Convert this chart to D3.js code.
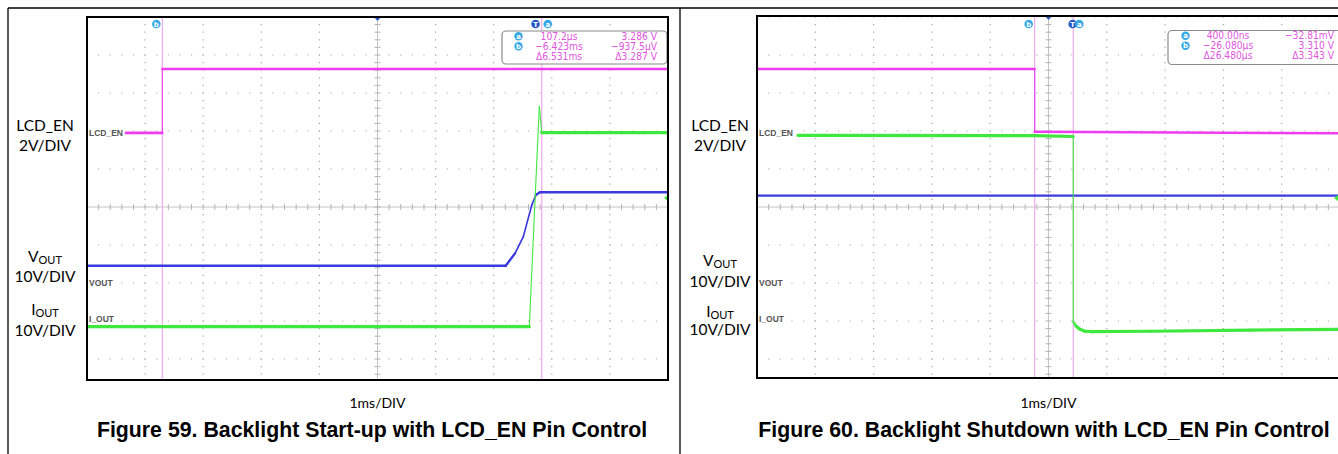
<!DOCTYPE html>
<html>
<head>
<meta charset="utf-8">
<script src="https://cdn.jsdelivr.net/npm/d3@7"></script>
<style>
  body { margin: 0; background: #fff; }
  svg { display: block; }
</style>
</head>
<body>
<div id="scope"></div>
<script>
// Vertical values are in screen divisions above (+) / below (-) the centre line.

// Figure 59, start-up (time in ms, trigger at 0)
const upLcdT  = [-7.05, -6.423, -6.423, 2.28];
const upLcdV  = [1.95, 1.95, 3.63, 3.63];
const upVoutT = [-7.72, -0.513, -0.353, -0.21, -0.065, 0.009, 0.077, 2.28];
const upVoutV = [-1.545, -1.545, -1.22, -0.78, 0.05, 0.32, 0.39, 0.39];
const upIoutT = [-7.72, -0.107, 0.065, 0.107, 2.28];
const upIoutV = [-3.15, -3.15, 2.66, 1.955, 1.955];
const upCursorT = { b: -6.423, a: 0.1072 };
const upReadout = [
  ["a", "107.2µs", "3.286 V"],
  ["b", "−6.423ms", "−937.5µV"],
  ["", "Δ6.531ms", "Δ3.287 V"]
];

// Figure 60, shutdown (time in µs, trigger at 0)
const dnLcdT  = [-216.6, -26.08, -26.08, 183.4];
const dnLcdV  = [3.63, 3.63, 1.98, 1.94];
const dnVoutT = [-216.6, 183.4];
const dnVoutV = [0.30, 0.30];
const dnIoutT = [-188.5, -25.9, 0.4, 0.4, 2.26, 5.0, 8.4, 13.2, 53.0, 121.7, 183.4];
const dnIoutV = [1.887, 1.88, 1.855, -3.018, -3.13, -3.22, -3.27, -3.28, -3.27, -3.24, -3.22];
const dnCursorT = { b: -26.08, a: 0.4 };
const dnReadout = [
  ["a", "400.00ns", "−32.81mV"],
  ["b", "−26.080µs", "3.310 V"],
  ["", "Δ26.480µs", "Δ3.343 V"]
];

const channelTags = ["LCD_EN", "VOUT", "I_OUT"];
const timebaseLabel = "1ms/DIV";
const captions = [
  "Figure 59. Backlight Start-up with LCD_EN Pin Control",
  "Figure 60. Backlight Shutdown with LCD_EN Pin Control"
];

// colours
const cLcd = "#f03cf0", cVout = "#3a3ae0", cIout = "#3fe83f";
const cCursor = "#eeaaee", cIcon = "#36a8e6", cGrid = "#a8a8a8";

const W = 1338, H = 454;
const svg = d3.select("#scope").append("svg")
  .attr("width", W).attr("height", H);

// outer frame lines
svg.append("line").attr("x1", 8).attr("x2", W).attr("y1", 8).attr("y2", 8)
  .attr("stroke", "#000").attr("stroke-width", 1.3);
[8, 680].forEach(xx => svg.append("line").attr("x1", xx).attr("x2", xx)
  .attr("y1", 8).attr("y2", H).attr("stroke", "#000").attr("stroke-width", 1.3));

const panels = [
  {
    id: "p59", left: 87, divW: 58.1, top: 17, bottom: 380, trigDiv: 7.72, perDiv: 1,
    lcd: [upLcdT, upLcdV], vout: [upVoutT, upVoutV], iout: [upIoutT, upIoutV],
    cursors: upCursorT, readout: upReadout,
    box: { x: 502, y: 31, w: 165, h: 33, icon: 16.5, c1: 57, c2: 155 },
    labelX: 45, labelY: [130.5, 150.7, 262, 281.7, 315, 335.7],
    captionX: 372, caption: captions[0]
  },
  {
    id: "p60", left: 757, divW: 58.3, top: 16, bottom: 378, trigDiv: 5.415, perDiv: 40,
    lcd: [dnLcdT, dnLcdV], vout: [dnVoutT, dnVoutV], iout: [dnIoutT, dnIoutV],
    cursors: dnCursorT, readout: dnReadout,
    box: { x: 1168, y: 30.5, w: 190, h: 34, icon: 17.5, c1: 60, c2: 166 },
    labelX: 720, labelY: [130.7, 150.7, 266, 287, 316.5, 335],
    captionX: 1044, caption: captions[1]
  }
];

const divH = 38, centreY = 207;

panels.forEach(p => {
  const right = p.left + 10 * p.divW;
  const x = d3.scaleLinear()
    .domain([-p.trigDiv * p.perDiv, (10 - p.trigDiv) * p.perDiv])
    .range([p.left, right]);
  const y = d3.scaleLinear()
    .domain([(centreY - p.bottom) / divH, (centreY - p.top) / divH])
    .range([p.bottom, p.top]);
  const gridX = d3.range(11).map(k => x((k - p.trigDiv) * p.perDiv));
  const yTop = y.domain()[1], yBot = y.domain()[0];

  svg.append("clipPath").attr("id", "clip-" + p.id)
    .append("rect").attr("x", p.left).attr("y", p.top)
    .attr("width", Math.min(right, W) - p.left).attr("height", p.bottom - p.top);

  const g = svg.append("g").attr("clip-path", `url(#clip-${p.id})`);

  // dotted grid
  gridX.forEach((gx, k) => {
    if (k === 0 || k === 5 || k === 10) return;
    g.append("line").attr("x1", gx).attr("x2", gx).attr("y1", p.top).attr("y2", p.bottom)
      .attr("stroke", cGrid).attr("stroke-width", 1.2)
      .attr("stroke-dasharray", `1.2,${divH / 5 - 1.2}`)
      .attr("stroke-dashoffset", -((centreY - p.top) % (divH / 5)) + 0.6);
  });
  d3.range(Math.ceil(yBot), Math.floor(yTop) + 1).forEach(v => {
    if (v === 0) return;
    g.append("line").attr("x1", p.left).attr("x2", right).attr("y1", y(v)).attr("y2", y(v))
      .attr("stroke", cGrid).attr("stroke-width", 1.2)
      .attr("stroke-dasharray", `1.2,${p.divW / 5 - 1.2}`)
      .attr("stroke-dashoffset", 0.6);
  });

  // centre crosshair with minor ticks
  const cx = gridX[5];
  g.append("line").attr("x1", p.left).attr("x2", right).attr("y1", y(0)).attr("y2", y(0))
    .attr("stroke", "#c4c4c4").attr("stroke-width", 1);
  g.append("line").attr("x1", cx).attr("x2", cx).attr("y1", p.top).attr("y2", p.bottom)
    .attr("stroke", "#c4c4c4").attr("stroke-width", 1);
  d3.range(0, 50).forEach(i => {
    const tx = p.left + i * p.divW / 5;
    g.append("line").attr("x1", tx).attr("x2", tx).attr("y1", y(0) - 3).attr("y2", y(0) + 3)
      .attr("stroke", "#b4b4b4");
  });
  d3.range(Math.ceil(yBot * 5), Math.floor(yTop * 5) + 1).forEach(i => {
    const ty = y(i / 5);
    g.append("line").attr("x1", cx - 3).attr("x2", cx + 3).attr("y1", ty).attr("y2", ty)
      .attr("stroke", "#b4b4b4");
  });

  // cursors
  Object.values(p.cursors).forEach(t => {
    g.append("line").attr("x1", x(t)).attr("x2", x(t)).attr("y1", p.top).attr("y2", p.bottom)
      .attr("stroke", cCursor).attr("stroke-width", 1.2);
  });

  // traces: fast edges are drawn thin, like the faint phosphor of a scope
  const line = d3.line().x(d => x(d[0])).y(d => y(d[1]));
  const drawTrace = (series, colour, w) => {
    const pts = d3.zip(...series);
    d3.pairs(pts).forEach(([a, b]) => {
      const dx = Math.abs(x(b[0]) - x(a[0])), dy = Math.abs(y(b[1]) - y(a[1]));
      const steep = dy > 6 * dx;
      g.append("path").datum([a, b]).attr("d", line)
        .attr("fill", "none").attr("stroke", colour)
        .attr("stroke-width", steep ? 1.1 : (dy > 1.5 * dx ? w * 0.7 : w))
        .attr("stroke-linecap", steep ? "butt" : "round");
    });
  };
  drawTrace(p.vout, cVout, 2.4);
  drawTrace(p.iout, cIout, 3.2);
  drawTrace(p.lcd, cLcd, 2.6);

  // channel tags inside the plot
  const tagY = [y(1.95) + 3, 285.5, 321.5];
  channelTags.forEach((s, i) => g.append("text").attr("x", p.left + 2).attr("y", tagY[i])
    .attr("font-family", "Liberation Sans, Arial, sans-serif").attr("font-size", 8.5)
    .attr("font-weight", "bold").attr("fill", "#555").text(s));

  // ground marker for I_OUT and trigger marker
  const gx = Math.min(right, W) - 4;
  g.append("path").attr("d", `M${gx},${y(0.24)} l4,-3 v6 z`).attr("fill", cIout);
  svg.append("path").attr("d", `M${cx - 3.5},${p.top} h7 l-3.5,4 z`).attr("fill", "#2458c8");

  // cursor / trigger icons along the top
  const icon = (ix, letter, fill) => {
    svg.append("circle").attr("cx", ix).attr("cy", 24).attr("r", 4.3).attr("fill", fill);
    svg.append("text").attr("x", ix).attr("y", 26.8).attr("text-anchor", "middle")
      .attr("font-family", "DejaVu Sans, sans-serif").attr("font-size", 7).attr("font-weight", "bold")
      .attr("fill", "#fff").text(letter);
  };
  icon(x(p.cursors.b) - 6, "b", cIcon);
  icon(x(0), "T", "#2458c8");
  icon(x(p.cursors.a) + 6, "a", cIcon);

  // readout box
  const b = p.box;
  svg.append("rect").attr("x", b.x).attr("y", b.y).attr("width", b.w).attr("height", b.h)
    .attr("rx", 4).attr("fill", "#fff").attr("stroke", "#8a8a8a").attr("stroke-width", 1.2);
  p.readout.forEach((row, i) => {
    const ry = b.y + 8.5 + i * 10;
    if (row[0]) {
      svg.append("circle").attr("cx", b.x + b.icon).attr("cy", ry - 3.3).attr("r", 4.2).attr("fill", cIcon);
      svg.append("text").attr("x", b.x + b.icon).attr("y", ry - 0.8).attr("text-anchor", "middle")
        .attr("font-family", "DejaVu Sans, sans-serif").attr("font-size", 7).attr("font-weight", "bold")
        .attr("fill", "#fff").text(row[0]);
    }
    const txt = (tx, anchor, s) => svg.append("text").attr("x", tx).attr("y", ry)
      .attr("text-anchor", anchor)
      .attr("font-family", "DejaVu Sans Condensed, DejaVu Sans, sans-serif")
      .attr("font-stretch", "condensed").attr("font-size", 10.2)
      .attr("fill", "#df55df").text(s);
    txt(b.x + b.c1, "middle", row[1]);
    txt(b.x + b.c2, "end", row[2]);
  });

  // plot frame
  svg.append("rect").attr("x", p.left).attr("y", p.top)
    .attr("width", right - p.left).attr("height", p.bottom - p.top)
    .attr("fill", "none").attr("stroke", "#000").attr("stroke-width", 2);

  // channel scale labels on the left
  const lab = svg.append("g").attr("font-family", "Lato, sans-serif").attr("font-size", 15.5)
    .attr("fill", "#000").attr("text-anchor", "middle");
  lab.append("text").attr("x", p.labelX).attr("y", p.labelY[0]).text("LCD_EN");
  lab.append("text").attr("x", p.labelX).attr("y", p.labelY[1]).text("2V/DIV");
  const sub = (ty, main) => {
    const t = lab.append("text").attr("x", p.labelX).attr("y", ty);
    t.append("tspan").text(main);
    t.append("tspan").attr("font-size", 11).attr("dy", 2).text("OUT");
  };
  sub(p.labelY[2], "V");
  lab.append("text").attr("x", p.labelX).attr("y", p.labelY[3]).text("10V/DIV");
  sub(p.labelY[4], "I");
  lab.append("text").attr("x", p.labelX).attr("y", p.labelY[5]).text("10V/DIV");

  // timebase and caption
  svg.append("text").attr("x", cx).attr("y", 407.5).attr("text-anchor", "middle")
    .attr("font-family", "Lato, sans-serif").attr("font-size", 14).text(timebaseLabel);
  svg.append("text").attr("x", p.captionX).attr("y", 437).attr("text-anchor", "middle")
    .attr("font-family", "Liberation Sans, Arial, sans-serif").attr("font-weight", "bold")
    .attr("font-size", 21.3).text(p.caption);
});
</script>
</body>
</html>
